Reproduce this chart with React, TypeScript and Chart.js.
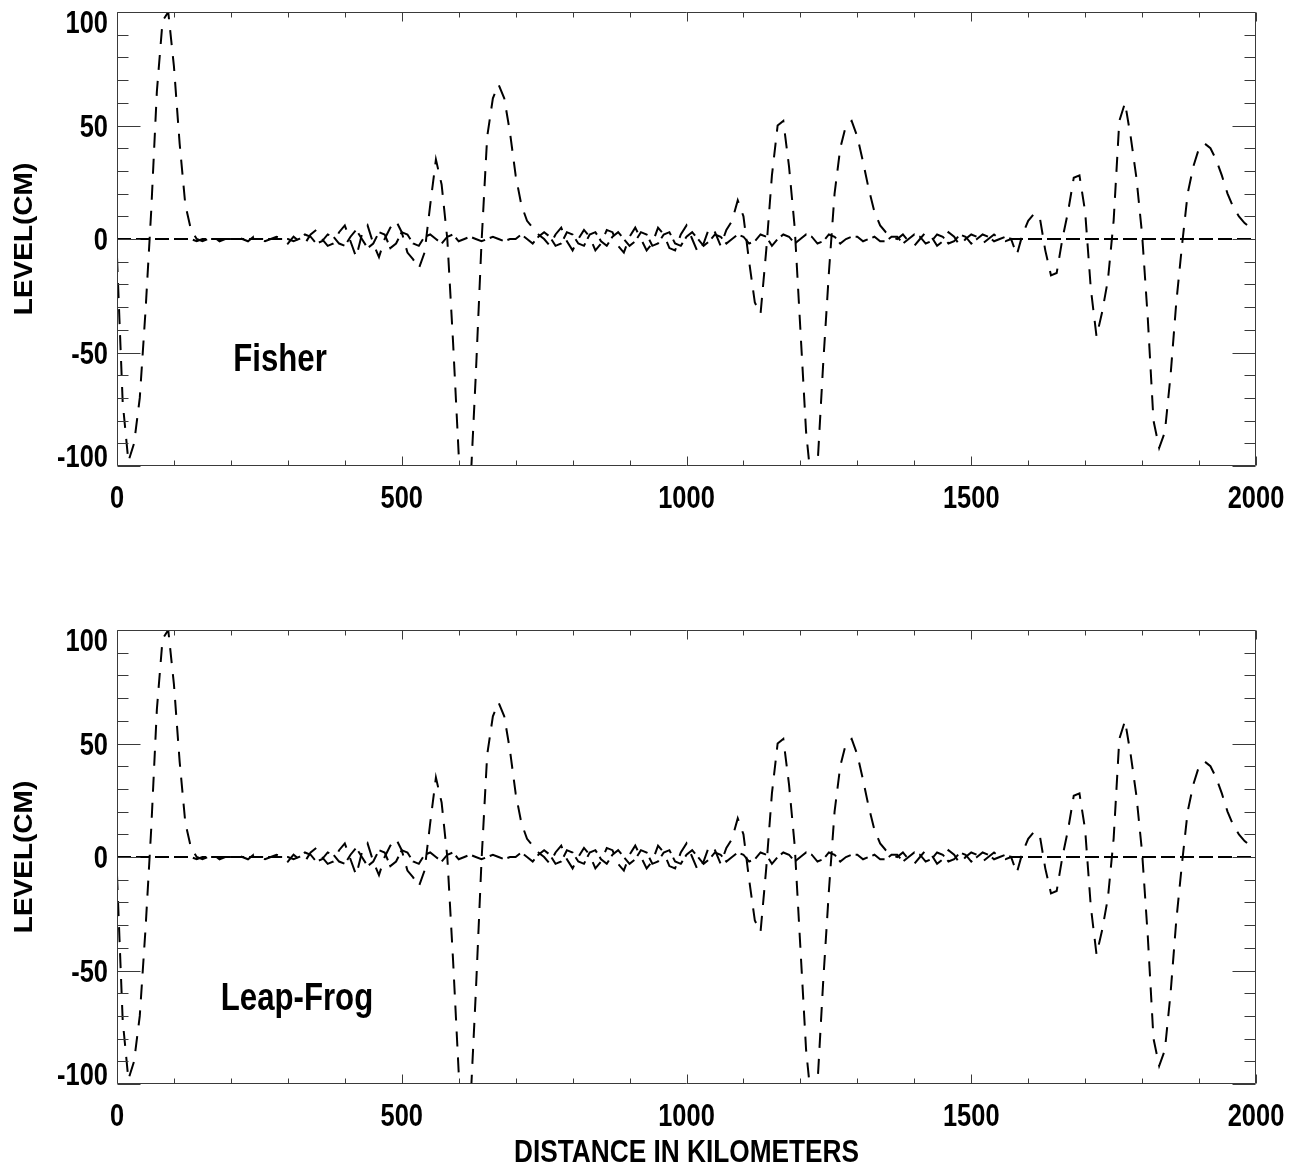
import React, { useEffect, useRef } from "react";
import { Chart, registerables } from "chart.js";

Chart.register(...registerables);

// Grid spacing of the model (km)
const STEP_KM = 10;

// Sea level (cm) of the dashed wave, every 10 km from 0 to 2000 km
const fisherLevels: number[] = [
  -8, -72, -98, -90, -70, -32, 12, 65, 96, 100,
  76, 42, 15, 4, 0, -1, 0, 1, -1, 0,
  0, 1, 0, -1, 1, 0, -1, 0, 1, 0,
  -2, 1, -1, -2, 2, 4, 0, -3, -2, 3,
  6, -1, -8, 2, 6, -2, -8, 0, 5, 8,
  3, -6, -9, -13, -6, 15, 35, 24, 0, -45,
  -95, -118, -112, -60, -2, 45, 62, 68, 62, 47,
  28, 15, 8, 5, 2, 0, -3, 2, 5, -1,
  -5, 0, 4, 1, -5, -2, 4, 3, -3, -6,
  1, 5, 0, -5, -2, 5, 2, -4, -5, 2,
  6, 0, -6, -2, 5, 3, -3, 4, 8, 17,
  10, -10, -28, -33, -5, 28, 50, 52, 32, 5,
  -40, -85, -110, -100, -55, -15, 20, 40, 50, 52,
  45, 34, 22, 12, 6, 3, 1, 0, 2, -1,
  -3, 0, 3, 1, -3, -1, 3, 1, -3, 0,
  2, 1, -2, 0, 2, 0, -1, 0, -7, 2,
  8, 11, 10, -5, -16, -15, 0, 12, 27, 28,
  12, -22, -43, -32, -18, 8, 52, 60, 45, 27,
  2, -35, -80, -92, -85, -60, -28, -3, 20, 32,
  40, 42, 40, 35, 28, 20, 14, 10, 7, 5,
  4,
];

// Second (near-zero) curve, every 10 km from 0 to 2000 km
const fisherResidual: number[] = [
  0, 0, 0, 0, 0, 0, 0, 0, 0, 0,
  0, 0, 0, 0, -1, 0, 0, 0, 0, 0,
  0, 0, 0, 0, 0, 0, 0, 0, 0, 0,
  0, -1, 0, 2, 1, -2, -1, 2, 1, -2,
  -3, 1, 4, 0, -4, -2, 3, 2, -4, -2,
  3, 2, -2, -3, 1, 2, 0, -2, 1, 2,
  -1, 0, 1, 0, -1, 0, 1, 0, -1, 0,
  0, 2, 0, -2, 1, 3, 1, -3, -2, 3,
  2, -2, -3, 2, 3, -1, -3, 1, 3, 0,
  -3, -1, 3, 2, -3, -2, 2, 3, -2, -3,
  1, 3, 0, -3, -1, 2, 1, -2, 0, 2,
  1, -2, -1, 2, 1, -3, 0, 2, 1, -2,
  0, 2, 1, -2, -1, 2, 1, -2, 0, 1,
  1, -1, 0, 1, -1, -1, 1, 1, -2, 0,
  2, 1, -2, -1, 2, 1, -2, -1, 2, 1,
  -2, 0, 2, 1, -1, 0, 1, 0, 0, 0,
  0, 0, 0, 0, 0, 0, 0, 0, 0, 0,
  0, 0, 0, 0, 0, 0, 0, 0, 0, 0,
  0, 0, 0, 0, 0, 0, 0, 0, 0, 0,
  0, 0, 0, 0, 0, 0, 0, 0, 0, 0,
  0,
];

// The Leap-Frog panel shows the same curves as the Fisher panel
const leapFrogLevels: number[] = fisherLevels;
const leapFrogResidual: number[] = fisherResidual;

const distanceKm: number[] = fisherLevels.map((_, i) => i * STEP_KM);

const xMajorTicks = [0, 500, 1000, 1500, 2000];
const yMajorTicks = [-100, -50, 0, 50, 100];
const X_MINOR = 100;
const Y_MINOR = 10;
const X_MIN = 0, X_MAX = 2000, Y_MIN = -100, Y_MAX = 100;

const FONT = "'Liberation Sans', Arial, Helvetica, sans-serif";
const SX = 0.82; // horizontal squeeze of the lettering

function drawText(ctx: CanvasRenderingContext2D, text: string, x: number, y: number, size: number, align: CanvasTextAlign, rotate = false, sx = SX) {
  ctx.save();
  ctx.translate(x, y);
  ctx.scale(sx, 1);
  if (rotate) ctx.rotate(-Math.PI / 2);
  ctx.font = `bold ${size}px ${FONT}`;
  ctx.fillStyle = "#000";
  ctx.textAlign = align;
  ctx.textBaseline = "alphabetic";
  ctx.fillText(text, 0, 0);
  ctx.restore();
}

type PanelOpts = {
  label: string;
  labelX: number;
  labelY: number;
  xTitle?: string;
  xTitleY?: number;
};

const idlFrame = {
  id: "idlFrame",
  afterDraw(chart: any, _args: any, opts: PanelOpts) {
    const { ctx, chartArea: a } = chart;
    const xs = chart.scales.x;
    const ys = chart.scales.y;
    ctx.save();
    ctx.strokeStyle = "#3a3a3a";
    ctx.lineWidth = 1;
    const L = Math.round(a.left) + 0.5;
    const R = Math.round(a.right) - 0.5;
    const T = Math.round(a.top) + 0.5;
    const B = Math.round(a.bottom) - 0.5;
    ctx.beginPath();
    ctx.rect(L, T, R - L, B - T);
    // x ticks
    for (let v = X_MIN; v <= X_MAX; v += X_MINOR) {
      const px = Math.round(xs.getPixelForValue(v)) + 0.5;
      const len = v % 500 === 0 ? 9 : 5;
      ctx.moveTo(px, B);
      ctx.lineTo(px, B - len);
      ctx.moveTo(px, T);
      ctx.lineTo(px, T + len);
    }
    // y ticks
    for (let v = Y_MIN; v <= Y_MAX; v += Y_MINOR) {
      const py = Math.round(ys.getPixelForValue(v)) + 0.5;
      const len = v % 50 === 0 ? 23 : 11;
      ctx.moveTo(L, py);
      ctx.lineTo(L + len, py);
      ctx.moveTo(R, py);
      ctx.lineTo(R - len, py);
    }
    ctx.stroke();
    ctx.restore();

    // tick labels
    for (const v of xMajorTicks) {
      drawText(ctx, String(v), xs.getPixelForValue(v), a.bottom + 42, 31, "center");
    }
    for (const v of yMajorTicks) {
      const py = ys.getPixelForValue(v);
      let base = py + 11;
      if (v === Y_MAX) base = a.top + 21;
      if (v === Y_MIN) base = a.bottom + 1;
      drawText(ctx, String(v), a.left - 9, base, 31, "right");
    }
    // axis title
    const midY = (a.top + a.bottom) / 2;
    drawText(ctx, "LEVEL(CM)", 32, midY, 28, "center", true, 0.95);
    if (opts.xTitle) {
      drawText(ctx, opts.xTitle, (a.left + a.right) / 2, opts.xTitleY as number, 32, "center");
    }
    // panel label
    drawText(ctx, opts.label, opts.labelX, opts.labelY, 38, "center");
  },
};

function makeConfig(levels: number[], residual: number[], padding: any, panel: PanelOpts): any {
  return {
    type: "line",
    data: {
      datasets: [
        {
          data: residual.map((v, i) => ({ x: distanceKm[i], y: v })),
          borderColor: "#000",
          borderWidth: 2,
          borderDash: [14, 5],
          pointRadius: 0,
          tension: 0,
          fill: false,
          clip: 0,
        },
        {
          data: levels.map((v, i) => ({ x: distanceKm[i], y: v })),
          borderColor: "#000",
          borderWidth: 2,
          borderDash: [15, 11],
          pointRadius: 0,
          tension: 0,
          fill: false,
          clip: 0,
        },
      ],
    },
    options: {
      animation: false,
      responsive: false,
      devicePixelRatio: 1,
      events: [],
      layout: { padding },
      scales: {
        x: { type: "linear", min: X_MIN, max: X_MAX, display: false },
        y: { type: "linear", min: Y_MIN, max: Y_MAX, display: false },
      },
      plugins: {
        legend: { display: false },
        tooltip: { enabled: false },
        title: { display: false },
        idlFrame: panel,
      },
    },
    plugins: [idlFrame],
  };
}

export default function App() {
  const topRef = useRef<HTMLCanvasElement>(null);
  const botRef = useRef<HTMLCanvasElement>(null);

  useEffect(() => {
    const c1 = new Chart(
      topRef.current as HTMLCanvasElement,
      makeConfig(fisherLevels, fisherResidual, { left: 117, right: 38, top: 12, bottom: 114 }, {
        label: "Fisher",
        labelX: 280,
        labelY: 371,
      })
    );
    const c2 = new Chart(
      botRef.current as HTMLCanvasElement,
      makeConfig(leapFrogLevels, leapFrogResidual, { left: 117, right: 38, top: 50, bottom: 85 }, {
        label: "Leap-Frog",
        labelX: 297,
        labelY: 430,
        xTitle: "DISTANCE IN KILOMETERS",
        xTitleY: 582,
      })
    );
    return () => {
      c1.destroy();
      c2.destroy();
    };
  }, []);

  return (
    <div style={{ position: "absolute", left: 0, top: 0, width: 1294, height: 1169, background: "#fff" }}>
      <canvas ref={topRef} width={1294} height={580} style={{ position: "absolute", left: 0, top: 0, width: 1294, height: 580 }} />
      <canvas ref={botRef} width={1294} height={589} style={{ position: "absolute", left: 0, top: 580, width: 1294, height: 589 }} />
    </div>
  );
}
